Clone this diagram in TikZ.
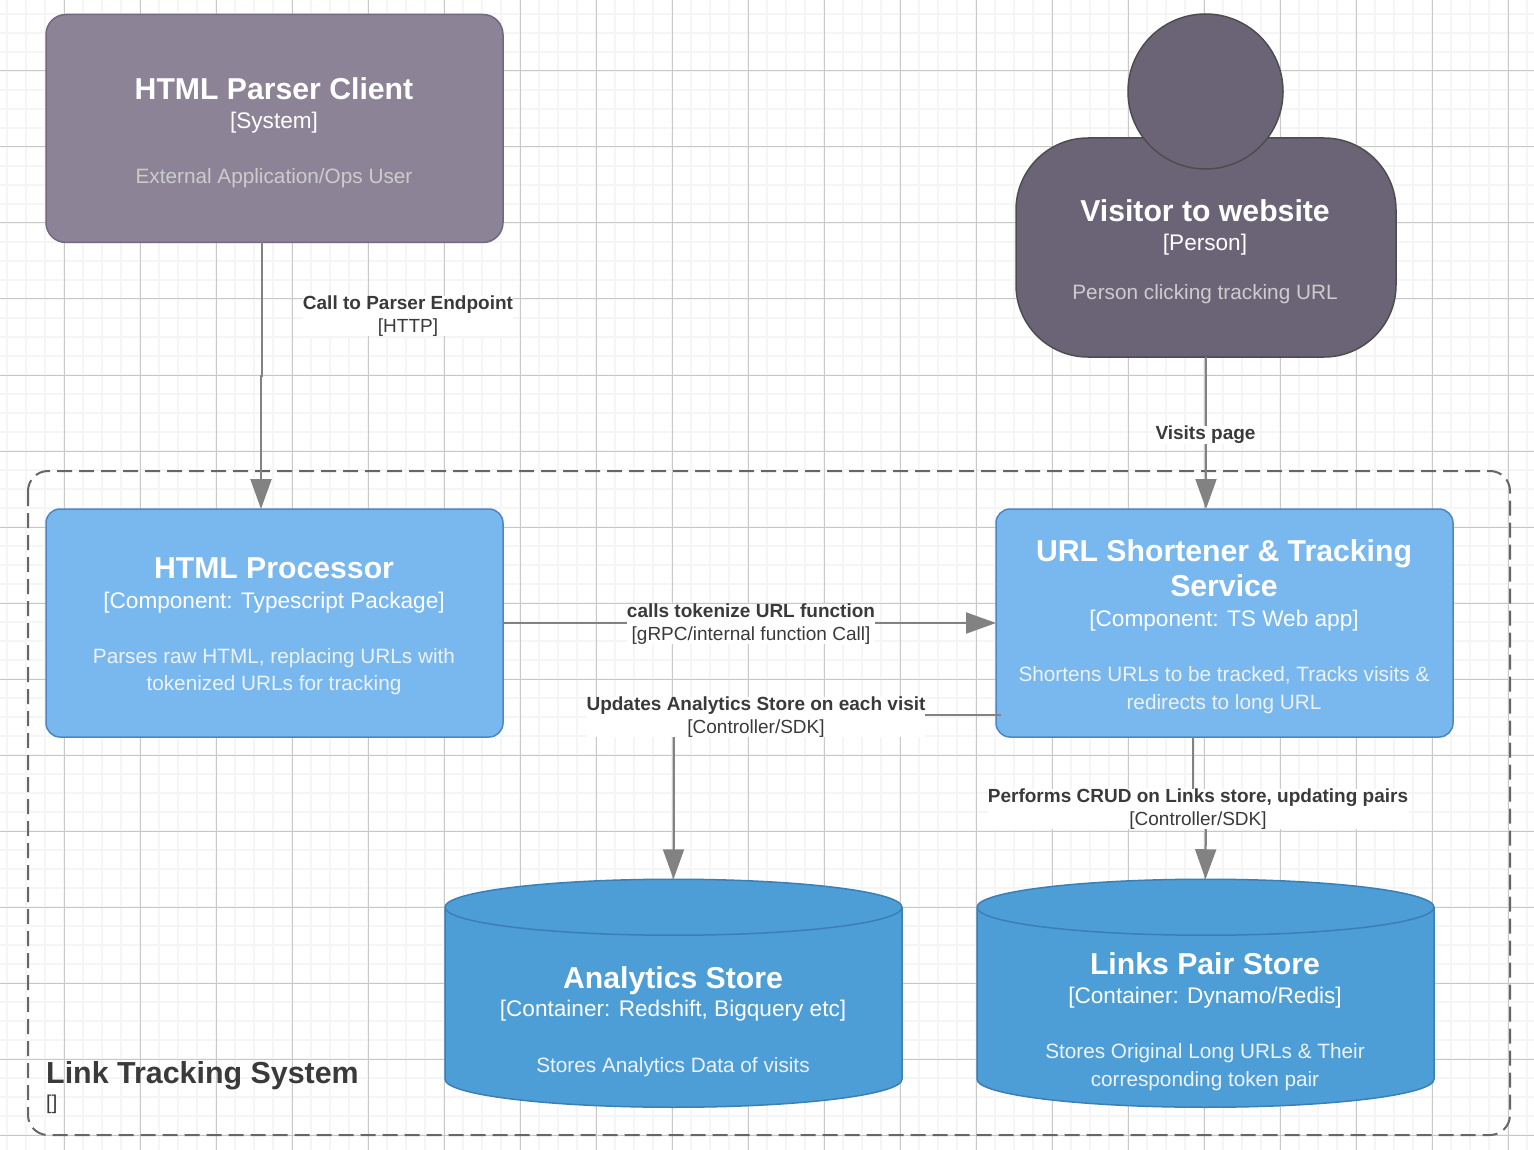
\documentclass[tikz,border=0pt]{standalone}
\usepackage{fontspec}
\setmainfont{Liberation Sans}
\usetikzlibrary{arrows.meta}
\usetikzlibrary{shapes.geometric}
\definecolor{gridmajor}{HTML}{C8C8C8}
\definecolor{gridminor}{HTML}{F5F5F5}
\definecolor{clientfill}{HTML}{8C8496}
\definecolor{clientline}{HTML}{736782}
\definecolor{personfill}{HTML}{6B6477}
\definecolor{personline}{HTML}{4D4D4D}
\definecolor{compfill}{HTML}{78B8EE}
\definecolor{compline}{HTML}{4D86C6}
\definecolor{storefill}{HTML}{4D9ED6}
\definecolor{storeline}{HTML}{3C7FB5}
\definecolor{relline}{HTML}{828282}
\definecolor{labeltext}{HTML}{3A3A3A}
\definecolor{descgrey}{HTML}{CCCCCC}
\definecolor{descblue}{HTML}{EDF2F7}
\tikzset{
  bluebox/.style={draw=compline, fill=compfill, line width=1.5pt, rounded corners=14pt,
    minimum width=457pt, minimum height=228pt, outer sep=0pt},
  clientbox/.style={bluebox, draw=clientline, fill=clientfill, rounded corners=20pt},
  personbody/.style={draw=personline, fill=personfill, line width=1.5pt, rounded corners=72pt,
    minimum width=380pt, minimum height=219pt, outer sep=0pt},
  personhead/.style={draw=personline, fill=personfill, line width=1.5pt, circle,
    minimum size=155pt, outer sep=0pt},
  storebox/.style={draw=storeline, fill=storefill, line width=1.5pt, cylinder, shape border rotate=90,
    aspect=8.4, minimum width=457pt, minimum height=228pt, outer sep=0pt},
  boxtext/.style={align=center, text=white, execute at begin node={\baselineskip=0pt\lineskiplimit=-100pt}},
  rel/.style={draw=relline, line width=2pt, -{Triangle[length=30pt,width=21pt]}},
  rellabel/.style={align=center, fill=white, text=labeltext, inner sep=0pt, font=\fontsize{19}{23}\selectfont},
}
\newcommand{\nametext}[1]{{\fontsize{30.2}{35}\selectfont\bfseries #1}}
\newcommand{\typetext}[1]{{\fontsize{22.6}{26}\selectfont #1}}
\newcommand{\desctext}[2][descblue]{{\fontsize{20.75}{27}\selectfont\color{#1}#2}}
\begin{document}
\begin{tikzpicture}[x=1pt, y=-1pt]
  \useasboundingbox (0,0) rectangle (1534,1150);
  \fill [white] (0,0) rectangle (1534,1150);
  % grid
  \foreach \k in {-3,...,80}{
    \draw [gridminor, line width=1.5pt] ({7+19*\k},0) -- ({7+19*\k},1150);
    \draw [gridminor, line width=1.5pt] (0,{14+19*\k}) -- (1534,{14+19*\k});
  }
  \foreach \k in {0,...,19}{
    \draw [gridmajor, line width=1pt] ({64+76*\k},0) -- ({64+76*\k},1150);
  }
  \foreach \k in {0,...,14}{
    \draw [gridmajor, line width=1pt] (0,{71+76*\k}) -- (1534,{71+76*\k});
  }

  % boundary
  \draw [dash pattern=on 15pt off 7pt, draw=black!60, line width=2pt, rounded corners=20pt] (28,471) rectangle (1510,1135);
  \node [anchor=west, inner sep=0pt, text=labeltext, font=\fontsize{30.4}{35}\selectfont\bfseries] (systemtitle) at (46,1076) {Link Tracking System};
  \node [anchor=west, inner sep=0pt, text=labeltext, font=\fontsize{20}{24}\selectfont] (systemtype) at (46,1104) {[]};

  % boxes
  \node [clientbox] (client) at (274.5,128.5) {};
  \node [boxtext] (clienttext) at (274,132.5) {\nametext{HTML Parser Client}\\[29pt]\typetext{[System]}\\[55pt]\desctext[descgrey]{External Application/Ops User}};
  \node [personbody] (visitor) at (1206,247.5) {};
  \node [personhead] (visitorhead) at (1205.5,91.5) {};
  \node [boxtext] (visitortext) at (1205,251.5) {\nametext{Visitor to website}\\[29pt]\typetext{[Person]}\\[49pt]\desctext[descgrey]{Person clicking tracking URL}};
  \node [bluebox] (processor) at (274.5,623) {};
  \node [boxtext] (processortext) at (274,626.5) {\nametext{HTML Processor}\\[30pt]\typetext{[Component: Typescript Package]}\\[55pt]\desctext{Parses raw HTML, replacing URLs with}\\[27pt]\desctext{tokenized URLs for tracking}};
  \node [bluebox] (shortener) at (1224.5,623) {};
  \node [boxtext] (shortenertext) at (1224,626.5) {\nametext{URL Shortener \& Tracking}\\[35pt]\nametext{Service}\\[30pt]\typetext{[Component: TS Web app]}\\[55pt]\desctext{Shortens URLs to be tracked, Tracks visits \&}\\[28pt]\desctext{redirects to long URL}};
  \node [storebox] (analytics) at (673.5,1010) {};
  \node [boxtext] (analyticstext) at (673,1021.5) {\nametext{Analytics Store}\\[28pt]\typetext{[Container: Redshift, Bigquery etc]}\\[56pt]\desctext{Stores Analytics Data of visits}};
  \node [storebox] (links) at (1205.5,1010) {};
  \node [boxtext] (linkstext) at (1205,1021.5) {\nametext{Links Pair Store}\\[29pt]\typetext{[Container: Dynamo/Redis]}\\[55pt]\desctext{Stores Original Long URLs \& Their}\\[28pt]\desctext{corresponding token pair}};

  % connectors
  \draw [rel] (262,0 |- client.south) -- (262,376) -- (261,376) -- (261,0 |- processor.north);
  \draw [rel] (visitor.south) -- (visitor.south |- shortener.north);
  \draw [rel] (processor.east) -- (shortener.west);
  \draw [rel] ([xshift=5pt]shortener.west |- 0,715) -| (analytics.north);
  \draw [rel] (1193,0 |- shortener.south) -- (1193,808) -- (1206,808) -- (links.north);

  % labels
  \node [rellabel] (parserlabel) at (408,316) {\textbf{Call to Parser Endpoint}\\{[HTTP]}};
  \node [rellabel] (visitlabel) at (1205.5,435) {\textbf{Visits page}};
  \node [rellabel] (tokenlabel) at (751,624) {\textbf{calls tokenize URL function}\\{[gRPC/internal function Call]}};
  \node [rellabel] (updatelabel) at (756,717) {\textbf{Updates Analytics Store on each visit}\\{[Controller/SDK]}};
  \node [rellabel] (crudlabel) at (1198,809) {\textbf{Performs CRUD on Links store, updating pairs}\\{[Controller/SDK]}};
\end{tikzpicture}
\end{document}
